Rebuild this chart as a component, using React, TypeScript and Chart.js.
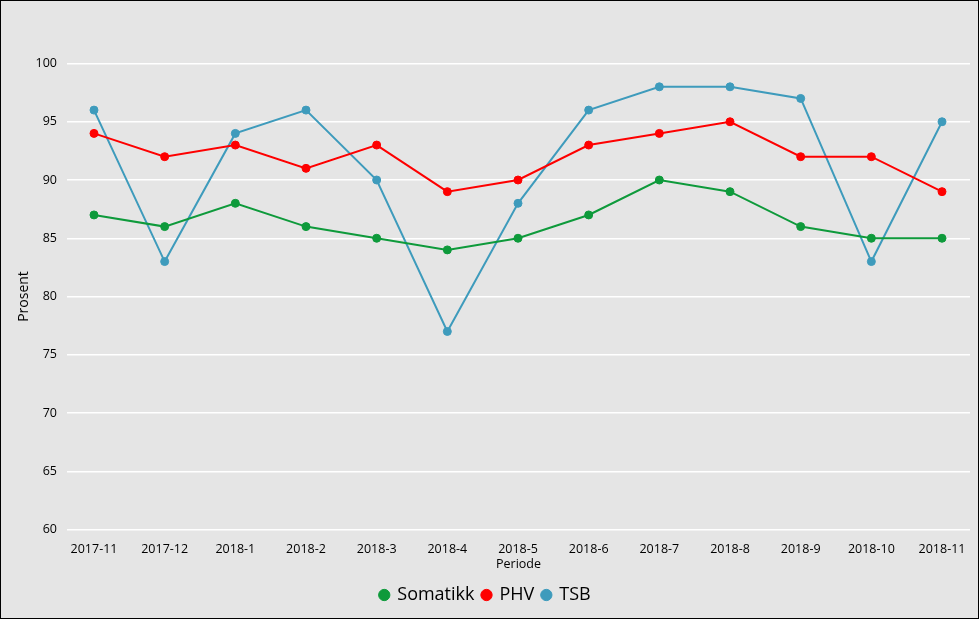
import React, { useEffect, useRef } from "react";
import { Chart, registerables } from "chart.js";

Chart.register(...registerables);

const categories = [
  "2017-11", "2017-12", "2018-1", "2018-2", "2018-3", "2018-4", "2018-5",
  "2018-6", "2018-7", "2018-8", "2018-9", "2018-10", "2018-11",
];
const somatikk = [87, 86, 88, 86, 85, 84, 85, 87, 90, 89, 86, 85, 85];
const phv = [94, 92, 93, 91, 93, 89, 90, 93, 94, 95, 92, 92, 89];
const tsb = [96, 83, 94, 96, 90, 77, 88, 96, 98, 98, 97, 83, 95];
const yTicks = [60, 65, 70, 75, 80, 85, 90, 95, 100];

const FONT = "'Open Sans', 'Liberation Sans', sans-serif";

function toPoints(values: number[]) {
  return values.map((v, i) => ({ x: i, y: v }));
}

export default function App() {
  const ref = useRef<HTMLCanvasElement | null>(null);

  useEffect(() => {
    document.body.style.margin = "0";
    const canvas = ref.current;
    if (!canvas) return;
    const mk = (label: string, data: number[], color: string) => ({
      label,
      data: toPoints(data),
      borderColor: color,
      backgroundColor: color,
      pointBackgroundColor: color,
      pointBorderColor: color,
      pointRadius: 4,
      pointBorderWidth: 1,
      borderWidth: 2,
      tension: 0,
    });
    const chart = new Chart(canvas, {
      type: "line",
      data: {
        datasets: [
          mk("Somatikk", somatikk, "#0e9a3b"),
          mk("PHV", phv, "#fe0000"),
          mk("TSB", tsb, "#3e9bbc"),
        ],
      },
      options: {
        animation: false,
        responsive: false,
        maintainAspectRatio: false,
        layout: { padding: { top: 62.5, right: 8, left: 0, bottom: 4 } },
        plugins: {
          tooltip: { enabled: false },
          legend: {
            position: "bottom",
            labels: {
              usePointStyle: true,
              pointStyle: "circle",
              boxWidth: 8,
              boxHeight: 8,
              padding: 8,
              color: "#000",
              font: { family: FONT, size: 18 },
            },
          },
        },
        scales: {
          x: {
            type: "linear",
            min: -0.382,
            max: 12.396,
            afterBuildTicks: (scale: any) => {
              scale.ticks = categories.map((_, i) => ({ value: i }));
            },
            afterFit: (scale: any) => {
              scale.height = 48.5;
            },
            grid: { display: false, drawTicks: false },
            border: { display: false },
            ticks: {
              autoSkip: false,
              maxRotation: 0,
              padding: 12,
              color: "#000",
              font: { family: FONT, size: 12.5 },
              callback: (v: any) => categories[Math.round(Number(v))] ?? "",
            },
            title: {
              display: true,
              text: "Periode",
              color: "#000",
              padding: { top: 0, bottom: 6 },
              font: { family: FONT, size: 12.5 },
            },
          },
          y: {
            min: 60,
            max: 100,
            afterBuildTicks: (scale: any) => {
              scale.ticks = yTicks.map((v) => ({ value: v }));
            },
            afterFit: (scale: any) => {
              scale.width = 66;
            },
            grid: { color: "#ffffff", lineWidth: 1.5, drawTicks: false },
            border: { display: false },
            ticks: {
              padding: 10,
              color: "#000",
              font: { family: FONT, size: 12.5 },
            },
            title: {
              display: true,
              text: "Prosent",
              color: "#000",
              padding: { top: 15, bottom: 0 },
              font: { family: FONT, size: 14 },
            },
          },
        },
      },
    } as any);
    return () => chart.destroy();
  }, []);

  return (
    <div
      style={{
        width: 979,
        height: 619,
        boxSizing: "border-box",
        border: "1px solid #000",
        background: "#e5e5e5",
      }}
    >
      <canvas ref={ref} width={977} height={617} style={{ display: "block" }} />
    </div>
  );
}
